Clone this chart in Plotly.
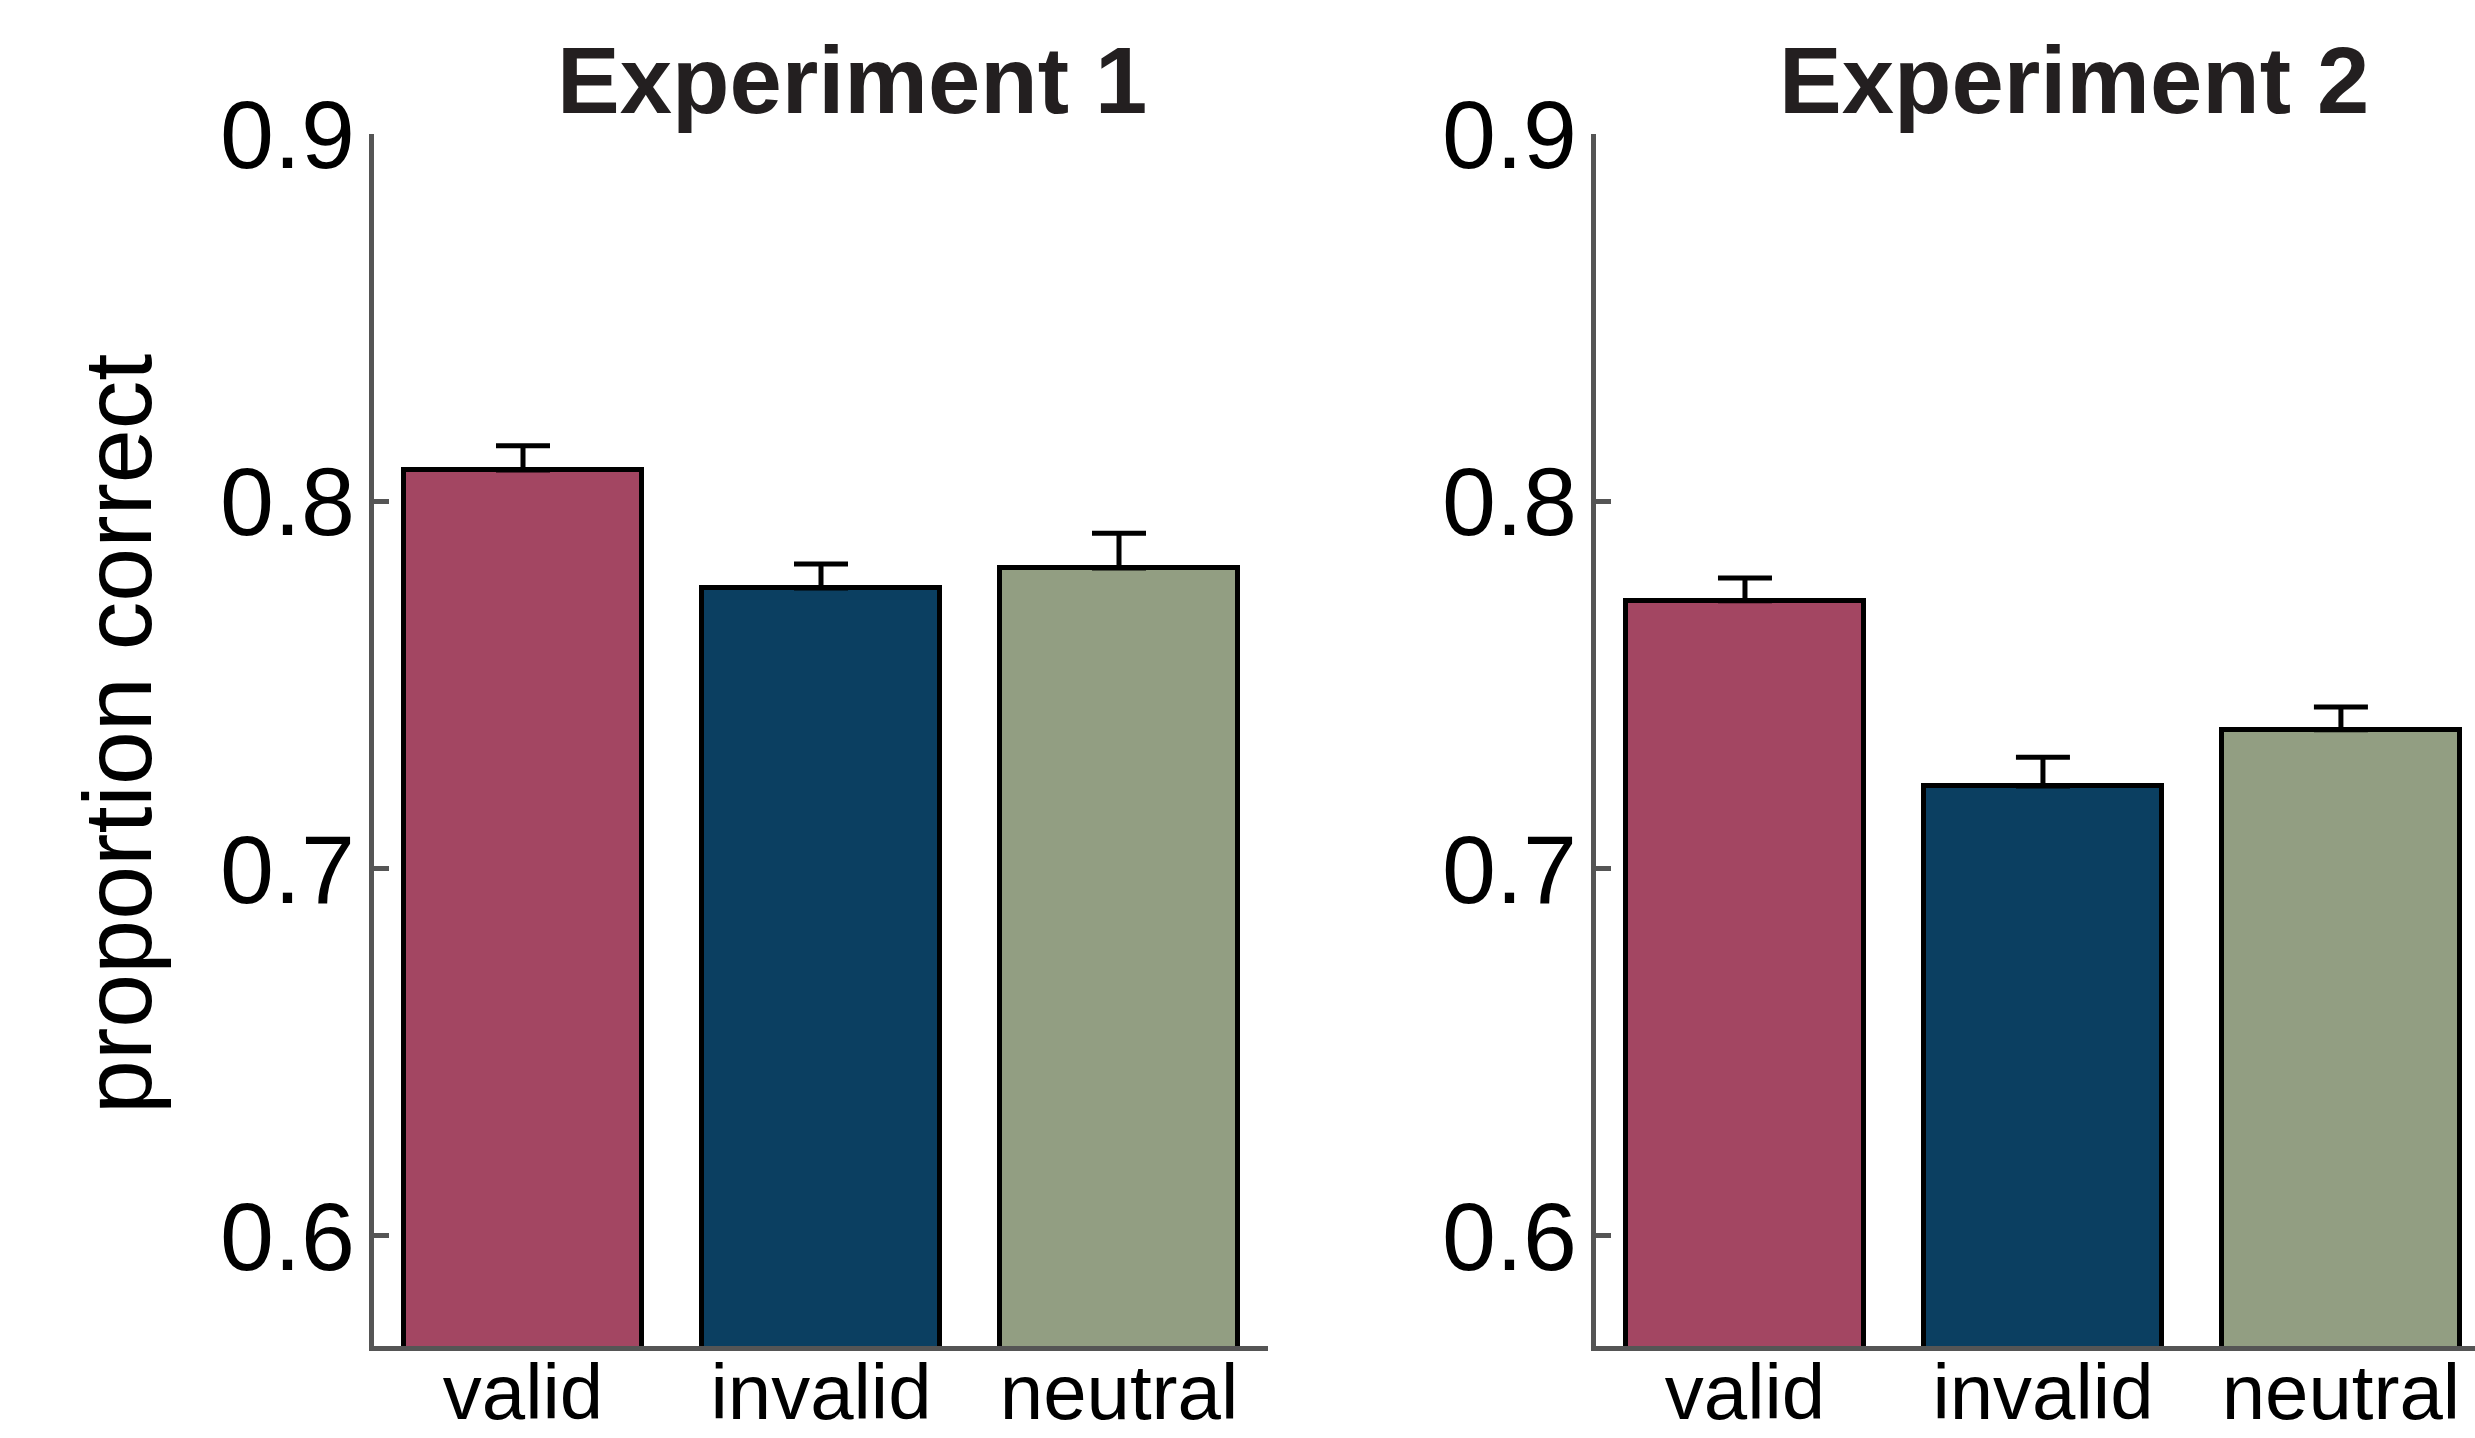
import plotly.graph_objects as go

# Cueing conditions and mean proportion correct (with SEM) for each experiment
conditions = ["valid", "invalid", "neutral"]
exp1_means = [0.8085, 0.7764, 0.7818]
exp1_sem = [0.0066, 0.0065, 0.0095]
exp2_means = [0.7729, 0.7225, 0.7378]
exp2_sem = [0.0062, 0.0078, 0.0062]
panel_titles = ["Experiment 1", "Experiment 2"]
y_ticks = [0.6, 0.7, 0.8, 0.9]

bar_colors = ["#A34662", "#0B3F61", "#929E82"]
axis_grey = "#555555"
font_family = "Liberation Sans, Arial, Helvetica, sans-serif"

W, H = 2475, 1438
positions = [1, 2, 3]

fig = go.Figure()

for i, (means, sem) in enumerate([(exp1_means, exp1_sem), (exp2_means, exp2_sem)]):
    suffix = "" if i == 0 else str(i + 1)
    fig.add_trace(go.Bar(
        x=positions,
        y=means,
        width=0.8,
        marker=dict(color=bar_colors, line=dict(color="black", width=5)),
        error_y=dict(type="data", array=sem, arrayminus=[0, 0, 0], symmetric=False,
                     color="black", thickness=5, width=27),
        xaxis="x" + suffix,
        yaxis="y" + suffix,
        showlegend=False,
    ))

x_common = dict(
    showline=True, linecolor=axis_grey, linewidth=4.5,
    ticks="", showgrid=False, zeroline=False, automargin=False,
    tickvals=positions, ticktext=conditions,
    tickfont=dict(family=font_family, size=78, color="black"),
    ticklabelstandoff=-25,
)
y_common = dict(
    showline=True, linecolor=axis_grey, linewidth=4.5,
    ticks="inside", ticklen=15, tickwidth=5, tickcolor=axis_grey,
    showgrid=False, zeroline=False, automargin=False,
    range=[0.57, 0.9], tickvals=y_ticks, ticktext=[f"{v:.1f}" for v in y_ticks],
    tickfont=dict(family=font_family, size=97, color="black"),
    ticklabelstandoff=-5,
)

y_dom = [1 - 1346 / H, 1 - 134 / H]

fig.update_layout(
    width=W, height=H,
    margin=dict(l=0, r=0, t=0, b=0, autoexpand=False),
    paper_bgcolor="white", plot_bgcolor="white",
    bargap=0,
    xaxis=dict(domain=[374 / W, 1268 / W], range=[0.5, 3.5], anchor="y", **x_common),
    yaxis=dict(domain=y_dom, anchor="x", **y_common),
    xaxis2=dict(domain=[1596 / W, 1.0], range=[0.5, 3.45], anchor="y2", **x_common),
    yaxis2=dict(domain=y_dom, anchor="x2", **y_common),
    annotations=[
        dict(text="<b>" + panel_titles[0] + "</b>", x=852 / W, y=1 - 81 / H,
             xref="paper", yref="paper", xanchor="center", yanchor="middle",
             showarrow=False, font=dict(family=font_family, size=94, color="#231F20")),
        dict(text="<b>" + panel_titles[1] + "</b>", x=2074 / W, y=1 - 81 / H,
             xref="paper", yref="paper", xanchor="center", yanchor="middle",
             showarrow=False, font=dict(family=font_family, size=94, color="#231F20")),
        dict(text="proportion correct", x=117 / W, y=1 - 734 / H, textangle=-90,
             xref="paper", yref="paper", xanchor="center", yanchor="middle",
             showarrow=False, font=dict(family=font_family, size=97, color="black")),
    ],
)

fig.write_html("out.html")
